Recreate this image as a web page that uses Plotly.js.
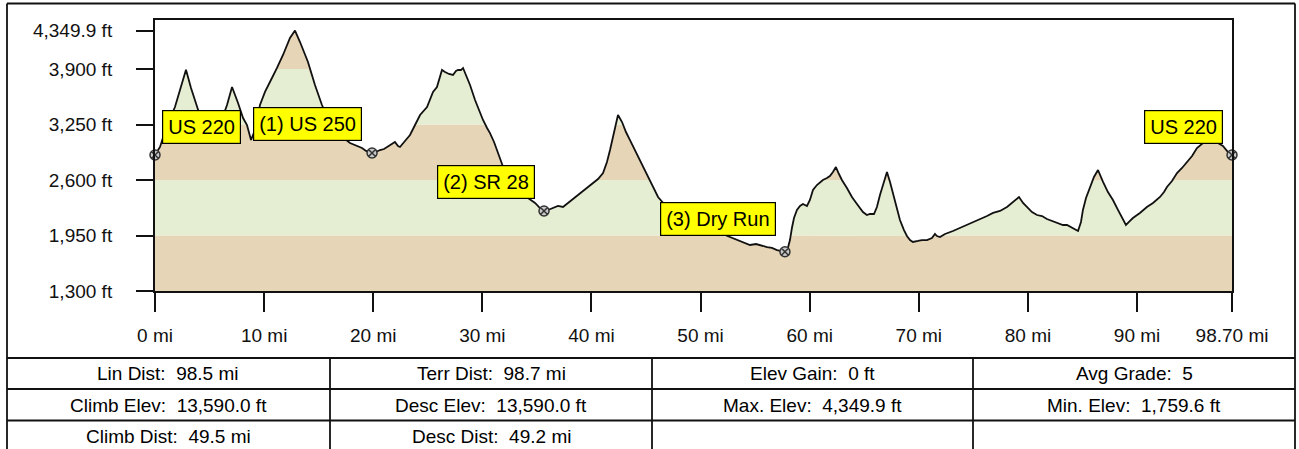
<!DOCTYPE html>
<html><head><meta charset="utf-8">
<script src="https://cdn.plot.ly/plotly-3.0.1.min.js"></script>
<style>html,body{margin:0;padding:0;background:#fff;}#chart{width:1299px;height:449px;}</style>
</head><body><div id="chart"></div>
<script>
// ---- data ----
const miles = [0.00,0.46,1.10,1.83,2.29,2.84,3.30,3.85,4.40,5.04,5.77,6.60,7.06,7.61,8.07,8.43,8.80,9.16,9.62,10.08,10.45,10.81,11.18,11.73,12.37,12.83,13.29,14.02,14.66,15.30,16.04,16.95,17.87,18.51,18.97,19.34,19.89,20.25,20.62,20.99,21.26,21.63,21.99,22.27,22.45,22.91,23.37,23.83,24.29,24.93,25.48,25.84,26.30,26.58,26.94,27.31,27.58,27.77,28.04,28.23,28.50,28.87,29.33,29.69,30.06,30.43,30.70,31.07,31.34,31.62,32.07,32.72,33.45,34.18,34.83,35.28,35.65,36.02,36.47,36.93,37.39,37.85,38.40,38.95,39.50,40.14,40.60,41.06,41.42,41.70,41.97,42.16,42.43,42.80,43.16,43.53,43.99,44.45,44.81,45.18,45.64,46.10,46.74,47.66,49.03,50.40,51.78,52.69,53.33,53.88,54.53,55.08,55.63,56.09,56.54,57.00,57.46,57.73,58.00,58.19,58.37,58.56,58.83,59.11,59.38,59.75,60.02,60.30,60.66,60.94,61.21,61.58,61.85,62.13,62.40,62.68,62.95,63.41,63.87,64.33,64.88,65.24,65.52,65.89,66.16,66.44,66.71,66.90,67.08,67.36,67.63,67.91,68.27,68.64,68.91,69.19,69.46,69.92,70.29,70.75,71.20,71.48,71.66,71.94,72.40,73.13,73.77,74.41,75.06,75.61,76.25,76.80,77.44,78.08,78.63,79.18,79.55,79.91,80.37,80.83,81.29,81.74,82.29,82.75,83.21,83.58,84.04,84.31,84.59,84.86,85.04,85.32,85.68,86.05,86.42,86.60,86.88,87.33,87.79,88.25,88.61,88.98,89.35,89.62,90.26,90.90,91.46,92.10,92.47,92.74,93.20,93.66,94.12,94.58,95.04,95.49,96.04,96.68,97.41,97.87,98.33,98.70];
const elevFt = [2893,2987,3244,3455,3654,3890,3677,3455,3244,3068,3186,3478,3689,3502,3326,3244,3068,3186,3478,3631,3736,3818,3912,4064,4263,4349.9,4216,3982,3713,3478,3279,3127,3033,2998,2975,2940,2916,2928,2951,2963,2987,3022,3045,2998,2987,3057,3127,3244,3361,3455,3631,3689,3888,3865,3842,3830,3877,3888,3888,3912,3830,3713,3537,3420,3303,3209,3150,3045,2951,2834,2694,2541,2459,2389,2331,2272,2237,2249,2272,2296,2284,2331,2389,2448,2506,2565,2612,2682,2811,2951,3104,3221,3361,3279,3162,3068,2951,2834,2741,2635,2518,2401,2307,2225,2132,2050,1979,1932,1897,1874,1839,1850,1827,1815,1804,1780,1768,1759.6,1804,1897,2038,2155,2249,2296,2319,2296,2366,2483,2541,2577,2600,2623,2647,2694,2752,2670,2600,2506,2401,2319,2225,2190,2202,2202,2284,2424,2541,2635,2694,2577,2448,2307,2132,2014,1944,1897,1874,1886,1897,1897,1921,1968,1944,1932,1968,2003,2038,2073,2108,2143,2178,2214,2237,2284,2342,2401,2331,2284,2225,2190,2178,2143,2120,2096,2073,2073,2038,2026,2003,2108,2249,2389,2518,2635,2717,2659,2577,2459,2366,2249,2155,2073,2120,2155,2214,2284,2331,2401,2459,2518,2588,2682,2741,2811,2881,2975,3033,3045,3033,2998,2928,2893];

const waypointMi = [0, 19.89, 35.65, 57.73, 98.70];
const waypointFt = [2893, 2916, 2237, 1759.6, 2893];
const waypointLabels = ["US 220", "(1) US 250", "(2) SR 28", "(3) Dry Run", "US 220"];

const yTickVals = [1300, 1950, 2600, 3250, 3900, 4349.9];
const yTickText = ["1,300 ft", "1,950 ft", "2,600 ft", "3,250 ft", "3,900 ft", "4,349.9 ft"];
const xTickVals = [0, 10, 20, 30, 40, 50, 60, 70, 80, 90, 98.7];
const xTickText = ["0 mi", "10 mi", "20 mi", "30 mi", "40 mi", "50 mi", "60 mi", "70 mi", "80 mi", "90 mi", "98.70 mi"];

const bandEdges = [1300, 1950, 2600, 3250, 3900, 5000];

const statRow1 = ["Lin Dist:\u00a0 98.5 mi", "Terr Dist:\u00a0 98.7 mi", "Elev Gain:\u00a0 0 ft", "Avg Grade:\u00a0 5"];
const statRow2 = ["Climb Elev:\u00a0 13,590.0 ft", "Desc Elev:\u00a0 13,590.0 ft", "Max. Elev:\u00a0 4,349.9 ft", "Min. Elev:\u00a0 1,759.6 ft"];
const statRow3 = ["Climb Dist:\u00a0 49.5 mi", "Desc Dist:\u00a0 49.2 mi", "", ""];

// ---- layout helpers (pixel -> paper) ----
const W = 1299, H = 449, L = 155, R = 1232, T = 20, B = 291;
const px = v => (v - L) / (R - L);
const py = v => (B - v) / (B - T);

const TAN = '#e6d5b6', GREEN = '#e5edd2';
const FONT = 'Arial, "Liberation Sans", sans-serif';

const traces = [];
for (let k = 0; k < bandEdges.length - 1; k++) {
  traces.push({
    x: miles,
    y: elevFt.map(v => Math.min(v, bandEdges[k + 1])),
    type: 'scatter', mode: 'lines',
    line: {width: 0, color: 'rgba(0,0,0,0)'},
    fill: k === 0 ? 'tozeroy' : 'tonexty',
    fillcolor: k % 2 === 0 ? TAN : GREEN,
    hoverinfo: 'skip', showlegend: false
  });
}
traces.push({
  x: miles, y: elevFt, type: 'scatter', mode: 'lines',
  line: {color: '#111', width: 1.8}, showlegend: false
});
traces.push({
  x: waypointMi, y: waypointFt, type: 'scatter', mode: 'markers',
  marker: {symbol: 'circle-x', size: 10, color: '#c8c8c8', line: {color: '#333', width: 1.5}},
  showlegend: false, cliponaxis: false
});

const annotations = [];
const labelCenters = [[201, 126.5], [307.5, 124], [486, 182], [717.5, 219], [1183, 126.5]];
waypointLabels.forEach((t, i) => {
  annotations.push({
    xref: 'paper', yref: 'paper', x: px(labelCenters[i][0]), y: py(labelCenters[i][1]),
    xanchor: 'center', yanchor: 'middle', showarrow: false, text: t,
    font: {family: FONT, size: 20, color: '#000'},
    bgcolor: '#ffff00', bordercolor: '#000', borderwidth: 1.2, borderpad: 5
  });
});
const colCenters = [168, 491, 812, 1134];
const rowCenters = [373.5, 405, 436];
[statRow1, statRow2, statRow3].forEach((row, r) => {
  row.forEach((t, c) => {
    if (!t) return;
    annotations.push({
      xref: 'paper', yref: 'paper', x: px(colCenters[c]), y: py(rowCenters[r]),
      xanchor: 'center', yanchor: 'middle', showarrow: false, text: t,
      font: {family: FONT, size: 19, color: '#000'}
    });
  });
});

const shapes = [];
const line = (x0, y0, x1, y1, w) => shapes.push({type: 'line', xref: 'paper', yref: 'paper',
  x0: px(x0), y0: py(y0), x1: px(x1), y1: py(y1), line: {color: '#111', width: w || 1.6}});
// outer frame
line(7, 3.5, 1295, 3.5, 2.2);
line(7, 3.5, 7, 452, 1.8);
line(1295, 3.5, 1295, 452, 1.8);
// table rows
[358, 389, 420.5].forEach(y => line(7, y, 1295, y, 1.8));
// table columns
[330, 652, 973].forEach(x => line(x, 358, x, 452, 1.8));

const layout = {
  width: W, height: H,
  margin: {l: L, r: W - R, t: T, b: H - B, pad: 0},
  paper_bgcolor: 'rgba(0,0,0,0)', plot_bgcolor: '#fff',
  showlegend: false,
  font: {family: FONT, size: 19, color: '#000'},
  xaxis: {
    range: [0, 98.7], tickvals: xTickVals, ticktext: xTickText,
    ticks: 'outside', ticklen: 19, tickwidth: 2, tickcolor: '#111',
    showline: true, linecolor: '#111', linewidth: 2, mirror: true,
    showgrid: false, zeroline: false, ticklabelstandoff: 7,
    tickfont: {family: FONT, size: 19, color: '#111'}
  },
  yaxis: {
    range: [1300, 1300 + (B - T) * 650 / 55.5], tickvals: yTickVals, ticktext: yTickText,
    ticks: 'outside', ticklen: 17, tickwidth: 2, tickcolor: '#111',
    showline: true, linecolor: '#111', linewidth: 2, mirror: true,
    showgrid: false, zeroline: false, ticklabelstandoff: 20,
    tickfont: {family: FONT, size: 19, color: '#111'}
  },
  annotations: annotations,
  shapes: shapes
};
Plotly.newPlot('chart', traces, layout, {staticPlot: true, displayModeBar: false});
</script></body></html>
